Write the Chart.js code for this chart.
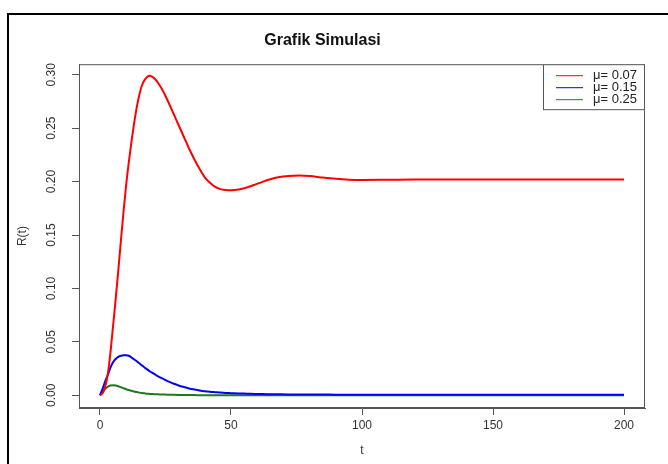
<!DOCTYPE html>
<html>
<head>
<meta charset="utf-8">
<script src="https://cdn.jsdelivr.net/npm/chart.js@4"></script>
<style>
  html, body { margin: 0; padding: 0; background: #fff; }
  #wrap { width: 668px; height: 464px; position: relative; }
</style>
</head>
<body>
<div id="wrap"><canvas id="simChart" width="668" height="464"></canvas></div>
<script>
// time points (t)
const tValues = [0, 1, 2, 3, 4, 5, 6, 7, 8, 9, 10, 11, 12, 13, 14, 15, 16, 17, 18, 19, 20, 21, 22,
  24, 26, 28, 30, 32, 34, 36, 38, 40, 42, 44, 46, 48, 50,
  53, 56, 59, 62, 65, 68, 72, 76, 80, 85, 90, 95, 100,
  110, 120, 130, 140, 150, 160, 170, 180, 190, 200];

// R(t) for mu = 0.07
const rMu007 = [0, 0.002, 0.008, 0.020, 0.040, 0.065, 0.090, 0.117, 0.145, 0.172, 0.197, 0.218, 0.237, 0.254, 0.269, 0.281, 0.290, 0.295, 0.298, 0.299, 0.298, 0.296, 0.293,
  0.285, 0.275, 0.264, 0.253, 0.242, 0.231, 0.221, 0.212, 0.204, 0.199, 0.195, 0.193, 0.1922, 0.192,
  0.1927, 0.1945, 0.197, 0.1998, 0.2022, 0.204, 0.2053, 0.2057, 0.2052, 0.2038, 0.2026, 0.2018, 0.2015,
  0.2017, 0.202, 0.202, 0.202, 0.202, 0.202, 0.202, 0.202, 0.202, 0.202];

// R(t) for mu = 0.15
const rMu015 = [0, 0.006, 0.013, 0.019, 0.026, 0.031, 0.034, 0.036, 0.037, 0.0375, 0.0375, 0.037, 0.0355, 0.0337, 0.0318, 0.030, 0.028, 0.026, 0.0243, 0.0225, 0.021, 0.0195, 0.018,
  0.0155, 0.013, 0.011, 0.0092, 0.0077, 0.0064, 0.0054, 0.0045, 0.0038, 0.0033, 0.0029, 0.0025, 0.0022, 0.002,
  0.0017, 0.0015, 0.0013, 0.0011, 0.001, 0.0009, 0.0008, 0.0008, 0.0007, 0.0007, 0.0006, 0.0006, 0.0006,
  0.0005, 0.0005, 0.0005, 0.0005, 0.0004, 0.0004, 0.0004, 0.0004, 0.0004, 0.0004];

// R(t) for mu = 0.25
const rMu025 = [0, 0.003, 0.006, 0.008, 0.0092, 0.0095, 0.0092, 0.0085, 0.0075, 0.0066, 0.0057, 0.0049, 0.0042, 0.0036, 0.003, 0.0025, 0.0021, 0.0018, 0.0015, 0.0013, 0.0011, 0.001, 0.0009,
  0.0007, 0.0005, 0.0004, 0.0003, 0.0002, 0.0002, 0.0002, 0.0001, 0.0001, 0.0001, 0.0001, 0.0001, 0.0001, 0.0001,
  0, 0, 0, 0, 0, 0, 0, 0, 0, 0, 0, 0, 0,
  0, 0, 0, 0, 0, 0, 0, 0, 0, 0];

const seriesLabels = ['\u03bc= 0.07', '\u03bc= 0.15', '\u03bc= 0.25'];
const xTicks = [0, 50, 100, 150, 200];
const yTicks = [0, 0.05, 0.10, 0.15, 0.20, 0.25, 0.30];

const FONT = '"Liberation Sans", Arial, Helvetica, sans-serif';

function toPoints(vals) {
  return tValues.map((t, i) => ({ x: t, y: vals[i] }));
}

// outer frame + plot box + legend box, like the R device output
const framePlugin = {
  id: 'frame',
  beforeDraw(chart) {
    const c = chart.ctx;
    c.save();
    c.fillStyle = '#fff';
    c.fillRect(0, 0, chart.width, chart.height);
    c.strokeStyle = '#000';
    c.lineWidth = 2;
    c.strokeRect(8, 14, chart.width + 20, chart.height + 20);
    c.restore();
  },
  afterDraw(chart) {
    const c = chart.ctx;
    const a = chart.chartArea;
    c.save();
    c.strokeStyle = '#555';
    c.lineWidth = 1;
    c.strokeRect(a.left + 0.5, a.top + 0.5, a.right - a.left - 1, a.bottom - a.top - 1);

    // legend
    const w = 102, h = 46;
    const lx = a.right - w, ly = a.top;
    c.fillStyle = '#fff';
    c.fillRect(lx, ly, w, h);
    c.strokeStyle = '#555';
    c.strokeRect(lx + 0.5, ly + 0.5, w - 1, h - 1);
    c.font = '13px ' + FONT;
    c.textBaseline = 'middle';
    c.textAlign = 'left';
    chart.data.datasets.forEach((ds, i) => {
      const y = ly + 11 + i * 12;
      c.strokeStyle = ds.borderColor;
      c.lineWidth = 1;
      c.beginPath();
      c.moveTo(lx + 13, y + 0.5);
      c.lineTo(lx + 40, y + 0.5);
      c.stroke();
      c.fillStyle = '#222';
      c.fillText(ds.label, lx + 50, y);
    });
    c.restore();
  }
};

new Chart(document.getElementById('simChart'), {
  type: 'line',
  data: {
    datasets: [
      { label: seriesLabels[0], data: toPoints(rMu007), borderColor: '#ff0000' },
      { label: seriesLabels[1], data: toPoints(rMu015), borderColor: '#0000ff' },
      { label: seriesLabels[2], data: toPoints(rMu025), borderColor: '#1f7a1f' }
    ]
  },
  options: {
    responsive: false,
    animation: false,
    layout: { padding: { left: 0, right: 23, top: 0, bottom: 0 } },
    elements: {
      point: { radius: 0 },
      line: { borderWidth: 2, cubicInterpolationMode: 'monotone' }
    },
    plugins: {
      legend: { display: false },
      tooltip: { enabled: false },
      title: {
        display: true,
        text: 'Grafik Simulasi',
        color: '#111',
        font: { family: FONT, size: 16, weight: 'bold' },
        padding: { top: 31, bottom: 14 }
      }
    },
    scales: {
      x: {
        type: 'linear',
        min: -8,
        max: 208,
        afterBuildTicks(scale) {
          scale.ticks = xTicks.map(v => ({ value: v }));
        },
        afterFit(scale) { scale.height = 56; },
        grid: { drawOnChartArea: false, drawTicks: true, tickLength: 7, color: '#555' },
        border: { display: true, color: '#555' },
        ticks: {
          color: '#333',
          font: { family: FONT, size: 12 },
          padding: 3,
          maxRotation: 0,
          callback: v => String(v)
        },
        title: {
          display: true,
          text: 't',
          color: '#333',
          font: { family: FONT, size: 12 },
          padding: { top: 0, bottom: 6 }
        }
      },
      y: {
        min: -0.0119,
        max: 0.3099,
        afterBuildTicks(scale) {
          scale.ticks = yTicks.map(v => ({ value: v }));
        },
        afterFit(scale) { scale.width = 79; },
        grid: { drawOnChartArea: false, drawTicks: true, tickLength: 7, color: '#555' },
        border: { display: true, color: '#555' },
        ticks: {
          color: '#333',
          font: { family: FONT, size: 12 },
          padding: 9,
          minRotation: 90,
          maxRotation: 90,
          crossAlign: 'center',
          callback: v => v.toFixed(2)
        },
        title: {
          display: true,
          text: 'R(t)',
          color: '#333',
          font: { family: FONT, size: 12 },
          padding: { top: 15, bottom: 0 }
        }
      }
    }
  },
  plugins: [framePlugin]
});
</script>
</body>
</html>
